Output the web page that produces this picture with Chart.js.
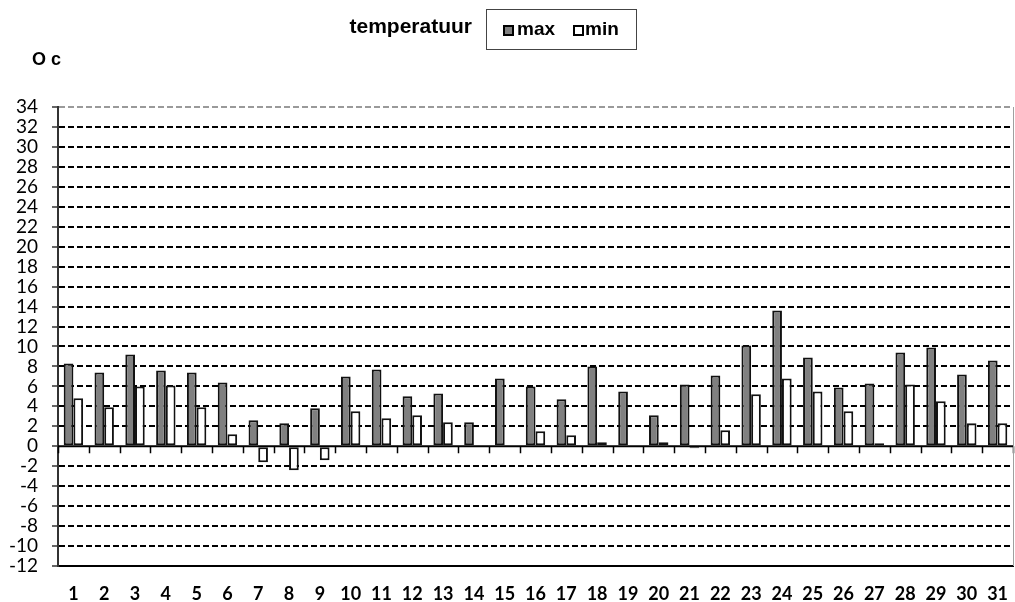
<!DOCTYPE html>
<html>
<head>
<meta charset="utf-8">
<script src="https://cdn.jsdelivr.net/npm/chart.js@4/dist/chart.umd.min.js"></script>
<style>
  html, body { margin: 0; padding: 0; background: #fff; }
  #wrap { width: 1015px; height: 602px; position: relative; }
</style>
</head>
<body>
<div id="wrap"><canvas id="tempChart" width="1015" height="602"></canvas></div>
<script>
const dagen = ['1','2','3','4','5','6','7','8','9','10','11','12','13','14','15','16','17','18','19','20','21','22','23','24','25','26','27','28','29','30','31'];
const maxTemp = [8.3, 7.4, 9.2, 7.6, 7.4, 6.4, 2.6, 2.3, 3.8, 7.0, 7.7, 5.0, 5.3, 2.4, 6.8, 6.0, 4.7, 8.0, 5.5, 3.1, 6.2, 7.1, 10.1, 13.6, 8.9, 5.9, 6.3, 9.4, 9.9, 7.2, 8.6];
const minTemp = [4.8, 3.9, 6.0, 6.1, 3.9, 1.2, -1.6, -2.4, -1.4, 3.5, 2.8, 3.1, 2.4, -0.1, 0, 1.5, 1.1, 0.4, 0, 0.4, -0.2, 1.6, 5.2, 6.8, 5.5, 3.5, 0.3, 6.2, 4.5, 2.3, 2.3];
const yMin = -12;
const yMax = 34;

// nullijn, streepjes op de nullijn, rand rechts, titel en legenda
const extras = {
  id: 'extras',
  beforeDatasetsDraw(chart) {
    const ctx = chart.ctx;
    const x = chart.scales.x;
    const y = chart.scales.y;
    const y0 = y.getPixelForValue(0);
    ctx.save();
    ctx.strokeStyle = '#000';
    ctx.lineWidth = 2;
    ctx.beginPath();
    ctx.moveTo(x.left, y0);
    ctx.lineTo(x.right, y0);
    ctx.stroke();
    const stap = (x.right - x.left) / dagen.length;
    ctx.lineWidth = 1.5;
    for (let i = 0; i <= dagen.length; i++) {
      const px = Math.round(x.left + i * stap) + 0.5;
      ctx.beginPath();
      ctx.moveTo(px, y0);
      ctx.lineTo(px, y0 + 7);
      ctx.stroke();
    }
    ctx.strokeStyle = '#a0a0a0';
    ctx.lineWidth = 1;
    ctx.beginPath();
    ctx.moveTo(x.right + 0.5, y.top);
    ctx.lineTo(x.right + 0.5, y.bottom);
    ctx.stroke();
    ctx.restore();
  },
  afterDraw(chart) {
    const ctx = chart.ctx;
    ctx.save();
    ctx.fillStyle = '#000';
    ctx.textBaseline = 'middle';
    ctx.font = 'bold 21px "Liberation Sans", Arial, sans-serif';
    ctx.textAlign = 'right';
    ctx.fillText('temperatuur', 472, 27);
    ctx.textAlign = 'left';
    ctx.font = 'bold 18px "Liberation Sans", Arial, sans-serif';
    ctx.fillText('O c', 32, 60);

    // legenda kader
    ctx.strokeStyle = '#444';
    ctx.lineWidth = 1;
    ctx.strokeRect(486.5, 9.5, 150, 40);
    ctx.strokeStyle = '#000';
    ctx.font = 'bold 19px "Liberation Sans", Arial, sans-serif';
    ctx.fillStyle = '#808080';
    ctx.fillRect(504, 26, 9, 9);
    ctx.lineWidth = 2;
    ctx.strokeRect(504, 26, 9, 9);
    ctx.fillStyle = '#000';
    ctx.fillText('max', 517, 30);
    ctx.fillStyle = '#fff';
    ctx.fillRect(574, 26, 9, 9);
    ctx.strokeRect(574, 26, 9, 9);
    ctx.fillStyle = '#000';
    ctx.fillText('min', 585, 30);
    ctx.restore();
  }
};

const ctx = document.getElementById('tempChart').getContext('2d');
const chart = new Chart(ctx, {
  type: 'bar',
  data: {
    labels: dagen,
    datasets: [
      {
        label: 'max',
        data: maxTemp,
        backgroundColor: '#808080',
        borderColor: '#111',
        borderWidth: 2,
        borderSkipped: false,
        categoryPercentage: 0.63,
        barPercentage: 1.0
      },
      {
        label: 'min',
        data: minTemp,
        backgroundColor: '#ffffff',
        borderColor: '#111',
        borderWidth: 2,
        borderSkipped: false,
        categoryPercentage: 0.63,
        barPercentage: 1.0
      }
    ]
  },
  options: {
    responsive: false,
    animation: false,
    layout: { padding: { top: 107, right: 2, left: 0, bottom: 0 } },
    plugins: {
      legend: { display: false },
      title: { display: false },
      tooltip: { enabled: false }
    },
    scales: {
      x: {
        grid: { display: false, drawTicks: false },
        border: { display: true, color: '#000', width: 2 },
        ticks: {
          color: '#000',
          padding: 17,
          maxRotation: 0,
          autoSkip: false,
          font: { family: 'Lato, "Open Sans", sans-serif', size: 18, weight: 'bold' }
        },
        afterFit(scale) {
          scale.height = 36;
          scale.paddingLeft = 0;
          scale.paddingRight = 0;
        }
      },
      y: {
        min: yMin,
        max: yMax,
        ticks: {
          stepSize: 2,
          autoSkip: false,
          color: '#000',
          padding: 14,
          font: { family: 'Lato, "Open Sans", sans-serif', size: 19 }
        },
        grid: {
          lineWidth: 2,
          color(c) {
            if (c.tick.value === 0 || c.tick.value === yMin) return 'rgba(0,0,0,0)';
            if (c.tick.value === yMax) return '#9a9a9a';
            return '#000';
          },
          drawTicks: true,
          tickLength: 6,
          tickColor: '#333',
          tickWidth: 1.5
        },
        border: { display: true, color: '#333', width: 2, dash: [6, 3] },
        afterFit(scale) { scale.width = 58; }
      }
    }
  },
  plugins: [extras]
});
</script>
</body>
</html>
